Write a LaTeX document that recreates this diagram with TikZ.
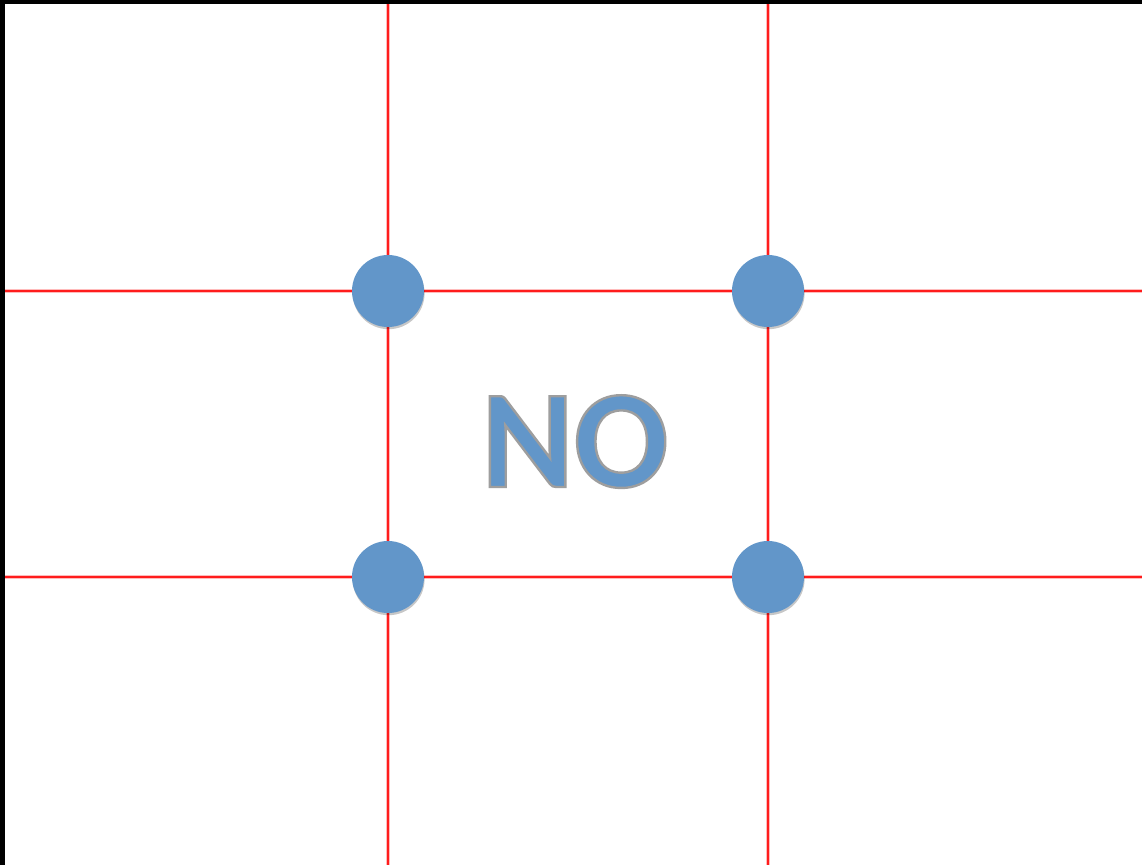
\documentclass[tikz,border=0pt]{standalone}
\usepackage{fontspec}
\newfontfamily\wordfont{Carlito}[BoldFont={Carlito Bold}]
\usepackage{xcolor}
\usetikzlibrary{shadows}

\definecolor{dotblue}{RGB}{98,150,201}
\definecolor{gridred}{RGB}{255,28,28}

\begin{document}
\begin{tikzpicture}[x=1pt, y=-1pt,
            gridline/.style={draw=gridred, line width=2.2pt,
            preaction={draw=gridred!30, line width=4.6pt}},
            dot/.style={circle, fill=dotblue, minimum size=72pt, inner sep=0pt,
            drop shadow={shadow xshift=0.6pt, shadow yshift=-2.2pt, opacity=0.22, fill=black}},
            bigword/.style={font=\wordfont\bfseries\fontsize{140}{140}\selectfont,
            text=dotblue, inner sep=0pt, anchor=base}
        ]
            \useasboundingbox (0,0) rectangle (1142,865);

            % Frame: black edge on the left and top
            \fill[black] (0,0) rectangle (1142,865);
            \fill[white] (5,4) rectangle (1142,865);

            % Ends of the grid lines
            \coordinate (vlt) at (388,4);   \coordinate (vlb) at (388,865);
            \coordinate (vrt) at (768,4);   \coordinate (vrb) at (768,865);
            \coordinate (htl) at (5,291);   \coordinate (htr) at (1142,291);
            \coordinate (hbl) at (5,577);   \coordinate (hbr) at (1142,577);

            % Grid lines (thirds)
            \draw[gridline] (vlt) -- (vlb);
            \draw[gridline] (vrt) -- (vrb);
            \draw[gridline] (htl) -- (htr);
            \draw[gridline] (hbl) -- (hbr);

            % Points where the lines cross
            \node[dot] (tl) at (388,291) {};
            \node[dot] (tr) at (768,291) {};
            \node[dot] (bl) at (388,577) {};
            \node[dot] (br) at (768,577) {};

            % Word in the middle, blue with a grey rim
            \node[bigword] (word) at (575,487)
                {\special{pdf:literal direct 2 Tr 2.4 w 0.62 0.62 0.62 RG}NO\special{pdf:literal direct 0 Tr}};

        \end{tikzpicture}
\end{document}
